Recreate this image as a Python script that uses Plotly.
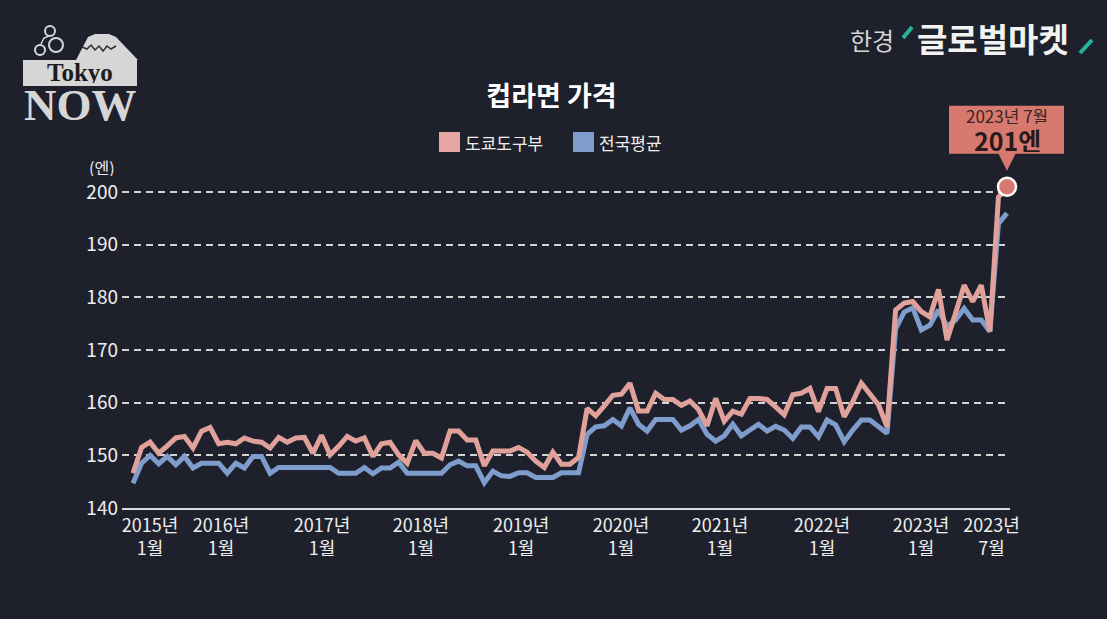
import plotly.graph_objects as go

# ---------------- data ----------------
title_text = "컵라면 가격"
tokyo_name = "도쿄도구부"
national_name = "전국평균"
y_unit = "(엔)"
callout_date = "2023년 7월"
callout_value = "201엔"

months = [f"{y}년 {m}월" for y in range(2015, 2024) for m in range(1, 13)][:103]

tokyo = [
    146.6, 151.5, 152.5, 150.4, 151.8, 153.3, 153.6, 151.4, 154.6, 155.3,
    152.2, 152.5, 152.2, 153.3, 152.7, 152.5, 151.4, 153.4, 152.5, 153.3,
    153.4, 150.4, 153.8, 150.1, 151.7, 153.6, 152.7, 153.3, 149.8, 152.2,
    152.5, 150.1, 148.5, 152.8, 150.4, 150.4, 149.5, 154.6, 154.6, 152.9,
    152.9, 148.0, 150.8, 150.8, 150.8, 151.5, 150.6, 148.9, 147.7, 150.6,
    148.3, 148.3, 149.6, 158.9, 157.5, 159.4, 161.4, 161.6, 163.7, 158.4,
    158.4, 161.8, 160.6, 160.6, 159.5, 160.3, 158.7, 155.6, 160.8, 156.5,
    158.4, 157.8, 160.8, 160.8, 160.6, 159.2, 157.7, 161.5, 161.8, 162.7,
    158.3, 162.7, 162.7, 157.3, 160.2, 163.7, 161.5, 159.6, 155.4, 177.6,
    178.9, 179.2, 177.3, 176.3, 181.5, 171.9, 177.0, 182.3, 179.2, 182.3,
    173.5, 199.0, 201.0,
]

national = [
    144.7, 148.5, 150.0, 148.4, 149.8, 148.2, 149.8, 147.6, 148.5, 148.5,
    148.5, 146.6, 148.5, 147.6, 149.8, 149.8, 146.6, 147.7, 147.7, 147.7,
    147.7, 147.7, 147.7, 147.7, 146.6, 146.6, 146.6, 147.7, 146.5, 147.6,
    147.6, 148.7, 146.6, 146.6, 146.6, 146.6, 146.6, 148.2, 148.9, 148.0,
    148.0, 144.8, 147.0, 146.1, 146.0, 146.7, 146.7, 145.8, 145.8, 145.8,
    146.7, 146.7, 146.7, 154.0, 155.4, 155.6, 156.8, 155.6, 159.0, 155.9,
    154.6, 156.8, 156.8, 156.8, 154.8, 155.6, 156.8, 154.0, 152.7, 153.7,
    155.9, 153.7, 154.8, 155.9, 154.6, 155.5, 154.8, 153.2, 155.4, 155.4,
    153.5, 156.7, 155.8, 152.6, 154.8, 156.7, 156.7, 155.4, 154.2, 174.0,
    177.2, 178.0, 173.8, 174.7, 177.6, 174.5, 175.7, 177.9, 175.7, 175.7,
    173.5, 194.0, 196.0,
]

y_ticks = [140, 150, 160, 170, 180, 190, 200]
x_tick_labels = [
    "2015년<br>1월", "2016년<br>1월", "2017년<br>1월", "2018년<br>1월",
    "2019년<br>1월", "2020년<br>1월", "2021년<br>1월", "2022년<br>1월",
    "2023년<br>1월", "2023년<br>7월",
]

# ---------------- layout / style ----------------
W, H = 1107, 619
L, R, T, B = 122, 1010, 179, 508          # plot-area pixel box
x = list(range(len(tokyo)))
x_range = [-1.284, len(tokyo) - 1 + 0.35]
y_range = [140, 140 + (B - T) / 5.2667]
# label placement as drawn in the original graphic (month-index units)
tick_pos = [1.98, 10.27, 22.06, 33.6, 45.3, 56.95, 68.5, 80.4, 91.96, 100.2]

bg = "#1e212c"
pink = "#e0a19b"
blue = "#7e9ccc"
pink_leg = "#e6a7a2"
blue_leg = "#7f9ccd"
grid_c = "#d2d2d2"
callout_c = "#d8796f"
logo_c = "#d6d6d6"
green = "#27b39b"
FONT = "Noto Sans CJK KR"


def px(xp):
    return (xp - L) / (R - L)


def py(yp):
    return (B - yp) / (B - T)


fig = go.Figure()
fig.add_trace(go.Scatter(x=x, y=national, mode="lines", name=national_name,
                         line=dict(color=blue, width=5), text=months,
                         hovertemplate="%{text}: %{y}엔<extra></extra>"))
fig.add_trace(go.Scatter(x=x, y=tokyo, mode="lines", name=tokyo_name,
                         line=dict(color=pink, width=5), text=months,
                         hovertemplate="%{text}: %{y}엔<extra></extra>"))
fig.add_trace(go.Scatter(x=[x[-1]], y=[tokyo[-1]], mode="markers",
                         marker=dict(size=18, color=callout_c,
                                     line=dict(color="white", width=2.5)),
                         cliponaxis=False, hoverinfo="skip", showlegend=False))

shapes = []
annotations = []

# callout box + pointer anchored on the last data point (via axis ranges)
ax_x = (x[-1] - x_range[0]) / (x_range[1] - x_range[0])
ax_y = (tokyo[-1] - y_range[0]) / (y_range[1] - y_range[0])
shapes.append(dict(type="rect", xref="paper", yref="paper",
                   xsizemode="pixel", ysizemode="pixel",
                   xanchor=ax_x, yanchor=ax_y,
                   x0=-58, x1=57, y0=33, y1=81,
                   fillcolor=callout_c, line=dict(width=0), layer="above"))
shapes.append(dict(type="path", xref="paper", yref="paper",
                   xsizemode="pixel", ysizemode="pixel",
                   xanchor=ax_x, yanchor=ax_y,
                   path="M -9,34 L 9,34 L 0,16 Z",
                   fillcolor=callout_c, line=dict(width=0), layer="above"))
annotations.append(dict(x=x[-1], y=tokyo[-1], xref="x", yref="y",
                        text=callout_date, showarrow=False, yshift=72,
                        xanchor="center", yanchor="middle", height=18,
                        font=dict(family=FONT, size=17, color="#3a2522")))
annotations.append(dict(x=x[-1], y=tokyo[-1], xref="x", yref="y",
                        text=f"<b>{callout_value}</b>", showarrow=False, yshift=47,
                        xanchor="center", yanchor="middle", height=24,
                        font=dict(family=FONT, size=25, color="#281b19")))

# y unit
annotations.append(dict(x=px(102), y=py(167), xref="paper", yref="paper",
                        text=y_unit, showarrow=False, xanchor="center", yanchor="middle",
                        height=18,
                        font=dict(family=FONT, size=16, color="#eeeeee")))

# manual legend
shapes.append(dict(type="rect", xref="paper", yref="paper",
                   x0=px(439), x1=px(460), y0=py(152), y1=py(132),
                   fillcolor=pink_leg, line=dict(width=0)))
shapes.append(dict(type="rect", xref="paper", yref="paper",
                   x0=px(573), x1=px(594), y0=py(152), y1=py(132),
                   fillcolor=blue_leg, line=dict(width=0)))
annotations.append(dict(x=px(463), y=py(142), xref="paper", yref="paper",
                        text=tokyo_name, showarrow=False, xanchor="left", yanchor="middle",
                        font=dict(family=FONT, size=17, color="#eeeeee")))
annotations.append(dict(x=px(597), y=py(142), xref="paper", yref="paper",
                        text=national_name, showarrow=False, xanchor="left", yanchor="middle",
                        font=dict(family=FONT, size=17, color="#eeeeee")))

# Tokyo NOW logo
def ppath(pts, close=True):
    s = "M " + " L ".join(f"{px(a)},{py(b)}" for a, b in pts)
    return s + (" Z" if close else "")

shapes.append(dict(type="path", xref="paper", yref="paper",
                   path=ppath([(76, 60), (88, 37), (95, 34), (109, 34), (116, 37), (138, 60)]),
                   fillcolor=logo_c, line=dict(width=0)))
shapes.append(dict(type="path", xref="paper", yref="paper",
                   path=ppath([(82, 47), (87, 49), (91, 45), (95, 50), (99, 46), (103, 51),
                               (107, 46), (111, 49), (116, 46)], close=False),
                   line=dict(color="#2a2d38", width=1.5)))
shapes.append(dict(type="rect", xref="paper", yref="paper",
                   x0=px(23), x1=px(137), y0=py(86), y1=py(60),
                   fillcolor=logo_c, line=dict(width=0)))
for cx, cy, r in [(50, 31, 5), (56, 45, 7), (40, 50, 5)]:
    shapes.append(dict(type="circle", xref="paper", yref="paper",
                       x0=px(cx - r), x1=px(cx + r), y0=py(cy + r), y1=py(cy - r),
                       fillcolor=bg, line=dict(color=logo_c, width=2)))
shapes.append(dict(type="path", xref="paper", yref="paper",
                   path=ppath([(41, 44), (44, 38), (49, 36)], close=False),
                   line=dict(color=logo_c, width=1.5)))
annotations.append(dict(x=px(80), y=py(72), xref="paper", yref="paper",
                        text="<b>Tokyo</b>", showarrow=False, xanchor="center", yanchor="middle",
                        height=22,
                        font=dict(family="Liberation Serif", size=25, color="#1c1c1c")))
annotations.append(dict(x=px(80), y=py(105), xref="paper", yref="paper",
                        text="<b>NOW</b>", showarrow=False, xanchor="center", yanchor="middle",
                        height=32,
                        font=dict(family="Liberation Serif", size=45, color=logo_c)))

# 한경 글로벌마켓 logo
annotations.append(dict(x=px(848), y=py(40), xref="paper", yref="paper",
                        text="한경", showarrow=False, xanchor="left", yanchor="middle",
                        font=dict(family=FONT, size=24, color="#d4d4d4")))
annotations.append(dict(x=px(915), y=py(38), xref="paper", yref="paper",
                        text="<b>글로벌마켓</b>", showarrow=False, xanchor="left", yanchor="middle",
                        font=dict(family=FONT, size=33, color="#f2f2f2")))
shapes.append(dict(type="line", xref="paper", yref="paper",
                   x0=px(903), y0=py(38), x1=px(912), y1=py(27),
                   line=dict(color=green, width=4)))
shapes.append(dict(type="line", xref="paper", yref="paper",
                   x0=px(1080), y0=py(53), x1=px(1092), y1=py(40),
                   line=dict(color=green, width=4)))

fig.update_layout(
    width=W, height=H, autosize=False,
    margin=dict(l=L, r=W - R, t=T, b=H - B, pad=0),
    paper_bgcolor=bg, plot_bgcolor=bg,
    showlegend=False,
    font=dict(family=FONT, color="#eeeeee"),
    title=dict(text=f"<b>{title_text}</b>", x=551.5 / W, xref="container", xanchor="center",
               y=1 - 96.5 / H, yref="container", yanchor="middle",
               font=dict(family=FONT, size=27, color="#ffffff")),
    xaxis=dict(range=x_range, tickmode="array", tickvals=tick_pos, ticktext=x_tick_labels,
               showgrid=False, zeroline=False, showline=True, linecolor="#dcdcdc",
               linewidth=2, ticks="", tickfont=dict(family=FONT, size=18, color="#eeeeee"),
               fixedrange=True),
    yaxis=dict(range=y_range, tickmode="array", tickvals=y_ticks, showgrid=True,
               gridcolor=grid_c, gridwidth=1.6, griddash="7px,5px", zeroline=False,
               showline=False, ticks="", ticklabelstandoff=3,
               tickfont=dict(family=FONT, size=19, color="#eeeeee"), fixedrange=True),
    shapes=shapes,
    annotations=annotations,
)

fig.write_html("out.html", config={"displayModeBar": False},
               post_script="document.body.style.margin='0';")
